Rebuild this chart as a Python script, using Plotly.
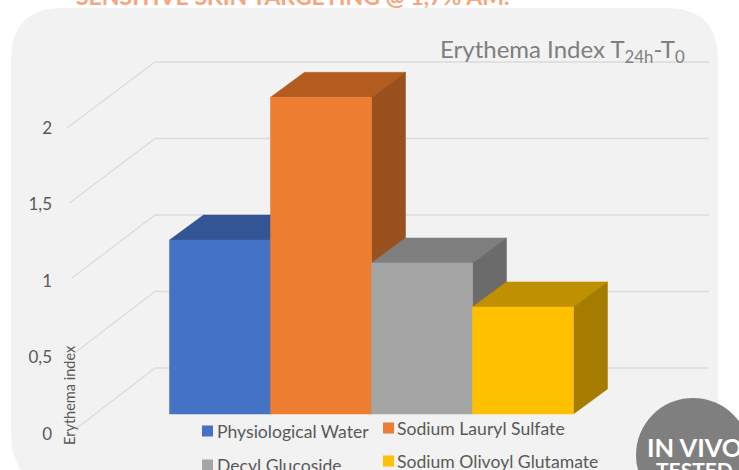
import plotly.graph_objects as go

W, H = 739, 470

# ---- data ----
categories = ["Physiological Water", "Sodium Lauryl Sulfate", "Decyl Glucoside", "Sodium Olivoyl Glutamate"]
values = [1.137, 2.07, 0.987, 0.70]
y_ticks = [0, 0.5, 1, 1.5, 2]
y_tick_labels = ["0", "0,5", "1", "1,5", "2"]
front_colors = ["#4472C4", "#ED7D31", "#A5A5A5", "#FFC000"]
top_colors = ["#335593", "#B45C20", "#7F7F7F", "#BF9000"]
side_colors = ["#2C4F8C", "#99521E", "#6B6B6B", "#A67C00"]

# ---- oblique-projection geometry (plot scale) ----
PX_PER_BAR = 101.0
PX_PER_UNIT = 153.0
X0_PX, Y0_PX = 169.5, 414.0     # pixel of x=0 / value=0 at the front of the bars
DOMAIN_LEFT = 53.0
DEPTH_X = 34 / PX_PER_BAR
DEPTH_Y = 25 / PX_PER_UNIT
WALL_LEFT = (155 - X0_PX) / PX_PER_BAR
WALL_RIGHT = (709 - X0_PX) / PX_PER_BAR
WALL_BASE = (Y0_PX - 368) / PX_PER_UNIT

fig = go.Figure()

# gridlines: back wall plus the diagonal running to the front-left
for v in y_ticks:
    by = WALL_BASE + v
    fdx = (78 + 5 * v) / PX_PER_BAR
    fdy = (60 + 3 * v) / PX_PER_UNIT
    fig.add_trace(go.Scatter(
        x=[WALL_LEFT - fdx, WALL_LEFT, WALL_RIGHT], y=[by - fdy, by, by],
        mode="lines", line=dict(color="#DCDCDC", width=1.3), hoverinfo="skip", showlegend=False))

def poly(xs, ys, color, name):
    fig.add_trace(go.Scatter(x=xs + xs[:1], y=ys + ys[:1], mode="lines", fill="toself",
                             fillcolor=color, line=dict(color=color, width=0.5),
                             name=name, showlegend=False))

for i, (cat, v) in enumerate(zip(categories, values)):
    l, r = float(i), float(i + 1)
    poly([l, r, r + DEPTH_X, l + DEPTH_X], [v, v, v + DEPTH_Y, v + DEPTH_Y], top_colors[i], cat)
    poly([r, r + DEPTH_X, r + DEPTH_X, r], [0, DEPTH_Y, v + DEPTH_Y, v], side_colors[i], cat)
    poly([l, r, r, l], [0, 0, v, v], front_colors[i], cat)

def px(x): return x / W
def py(y): return 1 - y / H

def rrect(x0, y0, x1, y1, r):
    a, b, c, d = px(x0), py(y0), px(x1), py(y1)
    rx, ry = r / W, r / H
    return (f"M {a+rx} {b} L {c-rx} {b} Q {c} {b} {c} {b-ry} L {c} {d+ry} Q {c} {d} {c-rx} {d} "
            f"L {a+rx} {d} Q {a} {d} {a} {d+ry} L {a} {b-ry} Q {a} {b} {a+rx} {b} Z")

shapes = [
    dict(type="path", xref="paper", yref="paper", layer="below", path=rrect(11, 8, 718, 486, 52),
         fillcolor="#F2F2F2", line=dict(width=0)),
    dict(type="circle", xref="paper", yref="paper", layer="above",
         x0=px(636), x1=px(750), y0=py(512), y1=py(398), fillcolor="#7F7F7F", line=dict(width=0)),
]

legend_pos = [(202, 431, 215), (383, 428, 395), (202, 465, 215), (383, 461, 395)]
annotations = []
for (sx, cy, tx), cat, col in zip(legend_pos, categories, front_colors):
    shapes.append(dict(type="rect", xref="paper", yref="paper", layer="above",
                       x0=px(sx), x1=px(sx + 11), y0=py(cy + 5.5), y1=py(cy - 5.5),
                       fillcolor=col, line=dict(width=0)))
    annotations.append(dict(xref="paper", yref="paper", x=px(tx), y=py(cy), text=cat, showarrow=False,
                            xanchor="left", yanchor="middle", font=dict(size=17.6, color="#595959", family="Lato")))

annotations += [
    dict(xref="paper", yref="paper", x=px(687), y=py(51), text="Erythema Index T<sub>24h</sub>-T<sub>0</sub>",
         showarrow=False, xanchor="right", yanchor="middle", font=dict(size=24, color="#7F7F7F", family="Lato")),
    dict(xref="paper", yref="paper", x=px(69), y=py(395), text="Erythema index", textangle=-90,
         showarrow=False, xanchor="center", yanchor="middle", font=dict(size=14.5, color="#595959", family="Lato")),
    dict(xref="paper", yref="paper", x=px(292), y=py(-4), text="<b>SENSITIVE SKIN TARGETING @ 1,7% AM.</b>",
         showarrow=False, xanchor="center", yanchor="middle",
         font=dict(size=23, color="#F9A47C", family="Lato")),
    dict(xref="paper", yref="paper", x=px(694), y=py(447), text="<b>IN VIVO</b>",
         showarrow=False, xanchor="center", yanchor="middle", font=dict(size=25.5, color="white", family="Lato")),
    dict(xref="paper", yref="paper", x=px(694), y=py(469), text="<b>TESTED</b>",
         showarrow=False, xanchor="center", yanchor="middle", font=dict(size=21, color="white", family="Lato")),
]

fig.update_layout(
    width=W, height=H, autosize=False,
    margin=dict(l=0, r=0, t=0, b=0, pad=0),
    paper_bgcolor="white", plot_bgcolor="rgba(0,0,0,0)",
    showlegend=False, shapes=shapes, annotations=annotations,
    xaxis=dict(domain=[DOMAIN_LEFT / W, 1], visible=False,
               range=[(DOMAIN_LEFT - X0_PX) / PX_PER_BAR, (W - X0_PX) / PX_PER_BAR]),
    yaxis=dict(visible=False, range=[(Y0_PX - H) / PX_PER_UNIT, Y0_PX / PX_PER_UNIT]),
    yaxis2=dict(overlaying="y", anchor="x", side="left",
                range=[(434 - H) / PX_PER_UNIT, 434 / PX_PER_UNIT],
                tickmode="array", tickvals=y_ticks, ticktext=y_tick_labels,
                showgrid=False, zeroline=False, showline=False, ticks="",
                tickfont=dict(size=17, color="#595959", family="Lato")),
)
# an empty trace keeps the tick-label axis alive
fig.add_trace(go.Scatter(x=[None], y=[None], yaxis="y2", showlegend=False, hoverinfo="skip"))

fig.write_html("out.html", config=dict(displayModeBar=False),
               post_script="document.body.style.margin='0';document.documentElement.style.overflow='hidden';")
